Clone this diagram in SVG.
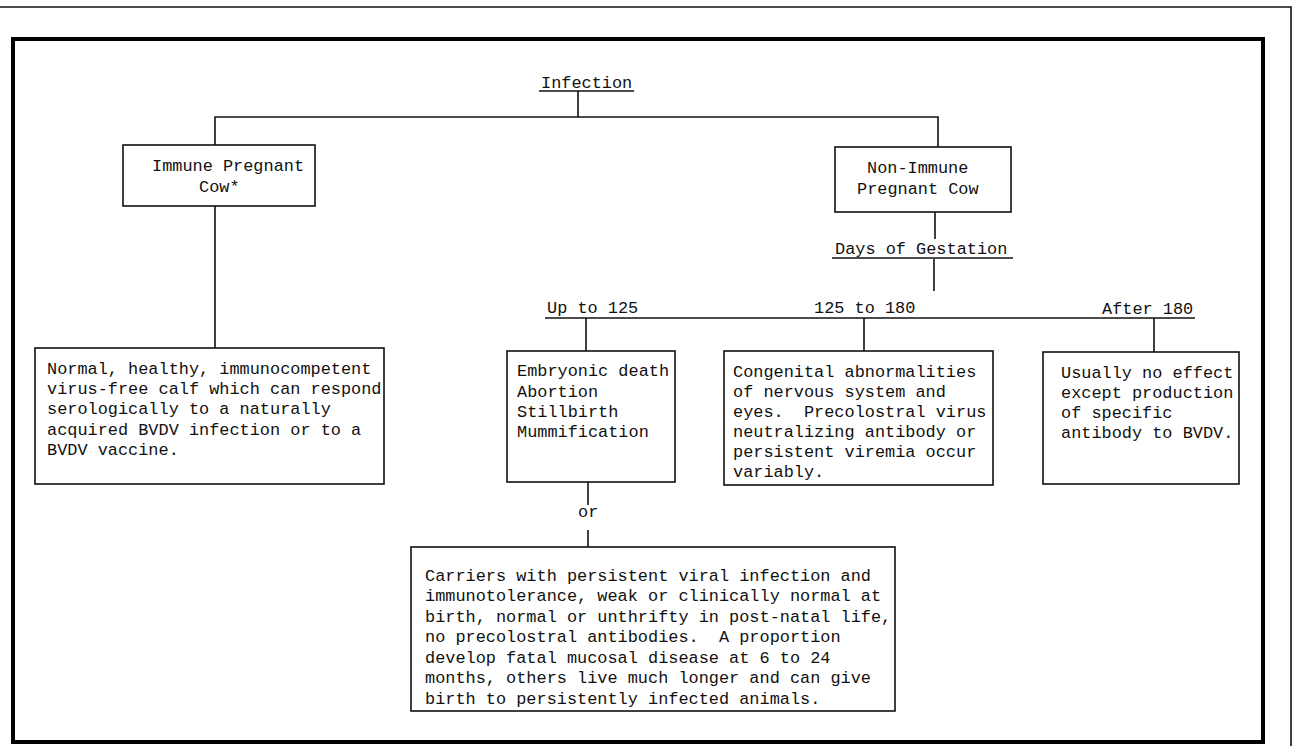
<svg xmlns="http://www.w3.org/2000/svg" width="1296" height="746" viewBox="0 0 1296 746">
<style>
text{font-family:"Liberation Mono","DejaVu Sans Mono",monospace;font-size:16.9px;fill:#111;white-space:pre;}
.box{fill:#fff;stroke:#111;stroke-width:1.6;}
.ln{stroke:#111;stroke-width:1.6;fill:none;}
.frame{fill:none;stroke:#000;stroke-width:4;}
</style>
<rect width="1296" height="746" fill="#fff"/>
<g id="border">
<polyline class="ln" points="0,7 1291,7 1291,746" stroke-width="2"/>
<rect class="frame" x="13" y="39" width="1250" height="703"/>
</g>
<g id="connectors">
<line class="ln" x1="578" y1="91" x2="578" y2="117"/>
<polyline class="ln" points="215,145 215,117 938,117 938,147"/>
<line class="ln" x1="215" y1="206" x2="215" y2="348"/>
<line class="ln" x1="935" y1="212" x2="935" y2="239"/>
<line class="ln" x1="934" y1="259" x2="934" y2="291"/>
<line class="ln" x1="545" y1="318" x2="1195" y2="318"/>
<line class="ln" x1="586" y1="318" x2="586" y2="351"/>
<line class="ln" x1="864" y1="318" x2="864" y2="351"/>
<line class="ln" x1="1154" y1="318" x2="1154" y2="352"/>
<line class="ln" x1="588" y1="482" x2="588" y2="505"/>
<line class="ln" x1="588" y1="530" x2="588" y2="547"/>
</g>
<g id="infection">
<text x="541" y="88">Infection</text>
<line class="ln" x1="539" y1="91" x2="634" y2="91"/>
</g>
<g id="immune">
<rect class="box" x="123" y="145" width="192" height="61"/>
<text x="152" y="171">Immune Pregnant</text>
<text x="199" y="192">Cow*</text>
</g>
<g id="nonimmune">
<rect class="box" x="835" y="147" width="176" height="65"/>
<text x="867" y="173">Non-Immune</text>
<text x="857" y="194">Pregnant Cow</text>
</g>
<g id="gestation">
<text x="835" y="254">Days of Gestation</text>
<line class="ln" x1="832" y1="258" x2="1013" y2="258"/>
</g>
<g id="labels">
<text x="547" y="313">Up to 125</text>
<text x="814" y="313">125 to 180</text>
<text x="1102" y="314">After 180</text>
</g>
<g id="normal">
<rect class="box" x="35" y="348" width="349" height="136"/>
<text x="47" y="374">Normal, healthy, immunocompetent</text>
<text x="47" y="394">virus-free calf which can respond</text>
<text x="47" y="414">serologically to a naturally</text>
<text x="47" y="435">acquired BVDV infection or to a</text>
<text x="47" y="455">BVDV vaccine.</text>
</g>
<g id="embryonic">
<rect class="box" x="507" y="351" width="168" height="131"/>
<text x="517" y="376">Embryonic death</text>
<text x="517" y="397">Abortion</text>
<text x="517" y="417">Stillbirth</text>
<text x="517" y="437">Mummification</text>
</g>
<g id="congenital">
<rect class="box" x="724" y="351" width="269" height="134"/>
<text x="733" y="377">Congenital abnormalities</text>
<text x="733" y="397">of nervous system and</text>
<text x="733" y="417" xml:space="preserve">eyes.  Precolostral virus</text>
<text x="733" y="437">neutralizing antibody or</text>
<text x="733" y="457">persistent viremia occur</text>
<text x="733" y="477">variably.</text>
</g>
<g id="noeffect">
<rect class="box" x="1043" y="352" width="196" height="132"/>
<text x="1061" y="378">Usually no effect</text>
<text x="1061" y="398">except production</text>
<text x="1061" y="418">of specific</text>
<text x="1061" y="438">antibody to BVDV.</text>
</g>
<g id="or">
<text x="578" y="517">or</text>
</g>
<g id="carriers">
<rect class="box" x="411" y="547" width="484" height="164"/>
<text x="425" y="581">Carriers with persistent viral infection and</text>
<text x="425" y="601">immunotolerance, weak or clinically normal at</text>
<text x="425" y="622">birth, normal or unthrifty in post-natal life,</text>
<text x="425" y="642" xml:space="preserve">no precolostral antibodies.  A proportion</text>
<text x="425" y="663">develop fatal mucosal disease at 6 to 24</text>
<text x="425" y="683">months, others live much longer and can give</text>
<text x="425" y="704">birth to persistently infected animals.</text>
</g>
</svg>
